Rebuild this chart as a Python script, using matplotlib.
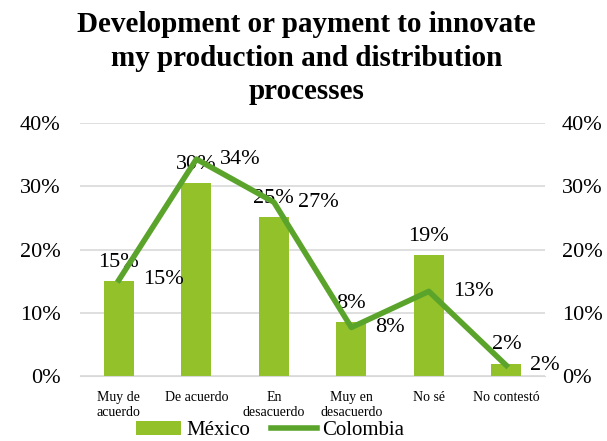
import matplotlib.pyplot as plt

plt.rcParams['font.family'] = 'Liberation Serif'

categories = ["Muy de\nacuerdo", "De acuerdo", "En\ndesacuerdo", "Muy en\ndesacuerdo", "No sé", "No contestó"]
mexico = [15.0, 30.5, 25.1, 8.5, 19.1, 2.0]
colombia = [15.2, 34.3, 27.5, 7.7, 13.4, 1.7]
mexico_labels = ["15%", "30%", "25%", "8%", "19%", "2%"]
colombia_labels = ["15%", "34%", "27%", "8%", "13%", "2%"]

bar_color = "#92C12A"
line_color = "#5BA42C"

fig = plt.figure(figsize=(6.07, 4.41), dpi=100)
ax = fig.add_axes([0.132, 0.147, 0.766, 0.574])
ax2 = ax.twinx()

x = list(range(len(categories)))
ax.bar(x, mexico, width=0.39, color=bar_color, zorder=2, label="México")
ax2.plot(x, colombia, color=line_color, linewidth=4, zorder=3, label="Colombia")

# data labels
for i, v in enumerate(mexico):
    ax.text(i, v + 1.5, mexico_labels[i], ha="center", va="bottom", fontsize=16, zorder=4)
for i, v in enumerate(colombia):
    ax2.text(i + 0.31, v, colombia_labels[i], ha="left", va="center", fontsize=16, zorder=4)

for a in (ax, ax2):
    a.set_ylim(0, 40)
    a.set_yticks([0, 10, 20, 30, 40])
    a.set_yticklabels(["0%", "10%", "20%", "30%", "40%"], fontsize=16)
    a.tick_params(axis="y", length=0)
    for s in a.spines.values():
        s.set_visible(False)
ax.tick_params(axis="y", pad=14)
ax2.tick_params(axis="y", pad=12)

ax.set_xlim(-0.5, 5.5)
ax.set_xticks(x)
ax.set_xticklabels(categories, fontsize=10, linespacing=1.2)
ax.tick_params(axis="x", length=0, pad=11)
ax.grid(axis="y", color="#D9D9D9", linewidth=1.2, zorder=0)
ax.set_axisbelow(True)
ax.spines["bottom"].set_visible(True)
ax.spines["bottom"].set_color("#D9D9D9")

fig.suptitle("Development or payment to innovate\nmy production and distribution\nprocesses",
             fontsize=21, fontweight="bold", x=0.505, y=0.976, linespacing=1.33)

h1, l1 = ax.get_legend_handles_labels()
h2, l2 = ax2.get_legend_handles_labels()
fig.legend(h1 + h2, l1 + l2, loc="center", ncol=2, frameon=False, fontsize=15,
           bbox_to_anchor=(270 / 607, 0.024), handlelength=2.2, columnspacing=1.0,
           handletextpad=0.25, borderpad=0)

fig.savefig("out.png", dpi=100)
